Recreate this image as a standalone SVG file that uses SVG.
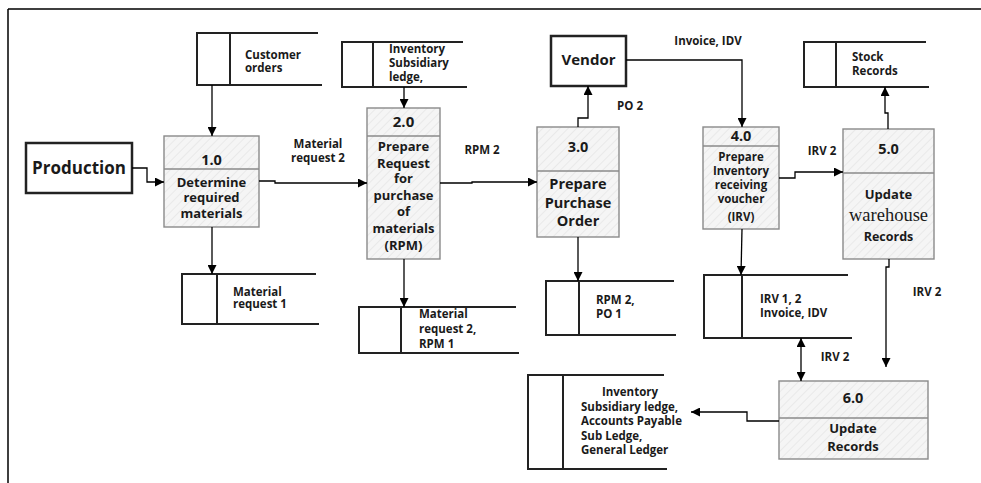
<svg xmlns="http://www.w3.org/2000/svg" width="981" height="483" viewBox="0 0 981 483">
<defs>
<pattern id="hatch" width="6" height="6" patternUnits="userSpaceOnUse" patternTransform="rotate(45)">
<rect width="6" height="6" fill="#f5f5f5"/>
<line x1="0" y1="0" x2="0" y2="6" stroke="#e6e6e6" stroke-width="1.5"/>
</pattern>
<marker id="arr" viewBox="0 0 10 10" refX="10" refY="5" markerWidth="9" markerHeight="9" markerUnits="userSpaceOnUse" orient="auto-start-reverse">
<path d="M0,0 L10,5 L0,10 z" fill="#000"/>
</marker>
</defs>
<style>
.t{font-family:"Open Sans","Noto Sans","Liberation Sans",sans-serif;font-weight:bold;fill:#1a1a1a}
.s{font-size:11.5px}
.c{text-anchor:middle}
.proc{fill:url(#hatch);stroke:#8a8a8a;stroke-width:1.4}
.div{stroke:#8a8a8a;stroke-width:1.4;fill:none}
.store{fill:none;stroke:#222;stroke-width:2}
.ext{fill:#fff;stroke:#222;stroke-width:2.5}
.con{fill:none;stroke:#000;stroke-width:1.3;marker-end:url(#arr)}
</style>
<rect width="981" height="483" fill="#fff"/>
<path d="M8,9 H981 M8,9 V483" fill="none" stroke="#000" stroke-width="1.5"/>

<g id="production">
<rect class="ext" x="26" y="143" width="106" height="50"/>
<text class="t c" x="79" y="174" font-size="17">Production</text>
</g>

<g id="vendor">
<rect class="ext" x="551" y="36" width="75" height="50"/>
<text class="t c" x="588.5" y="65" font-size="15">Vendor</text>
</g>

<g id="store-customer-orders">
<path class="store" d="M318,33 H197 V85 H322 M230,33 V85"/>
<text class="t s" x="245" y="59">Customer</text>
<text class="t s" x="245" y="72">orders</text>
</g>

<g id="store-inventory-subsidiary">
<path class="store" d="M463,42 H342 V87 H467 M373,42 V87"/>
<text class="t s" x="389" y="53">Inventory</text>
<text class="t s" x="389" y="67">Subsidiary</text>
<text class="t s" x="389" y="81">ledge,</text>
</g>

<g id="store-stock-records">
<path class="store" d="M926,42 H804 V87 H929 M836,42 V87"/>
<text class="t s" x="852" y="61">Stock</text>
<text class="t s" x="852" y="75">Records</text>
</g>

<g id="store-material-request-1">
<path class="store" d="M316,274 H182 V324 H319 M217,274 V324"/>
<text class="t s" x="233" y="296">Material</text>
<text class="t s" x="233" y="308">request 1</text>
</g>

<g id="store-material-request-2">
<path class="store" d="M516,307 H359 V353 H519 M401,307 V353"/>
<text class="t s" x="419" y="318">Material</text>
<text class="t s" x="419" y="333">request 2,</text>
<text class="t s" x="419" y="348">RPM 1</text>
</g>

<g id="store-rpm2-po1">
<path class="store" d="M674,281 H546 V335 H676 M579,281 V335"/>
<text class="t s" x="596" y="304">RPM 2,</text>
<text class="t s" x="596" y="318">PO 1</text>
</g>

<g id="store-irv">
<path class="store" d="M848,275 H704 V338 H852 M742,275 V338"/>
<text class="t s" x="760" y="303">IRV 1, 2</text>
<text class="t s" x="760" y="317">Invoice, IDV</text>
</g>

<g id="store-ledgers">
<path class="store" d="M664,375 H528 V469 H667 M563,375 V469"/>
<text class="t s c" x="630" y="396">Inventory</text>
<text class="t s" x="581" y="411">Subsidiary ledge,</text>
<text class="t s" x="581" y="425">Accounts Payable</text>
<text class="t s" x="581" y="440">Sub Ledge,</text>
<text class="t s" x="581" y="454">General Ledger</text>
</g>

<g id="p1">
<rect class="proc" x="164" y="136" width="95" height="91"/>
<line class="div" x1="164" y1="169" x2="259" y2="169"/>
<text class="t c" x="211.5" y="165" font-size="14.5">1.0</text>
<g class="t c" font-size="13">
<text x="211.5" y="187">Determine</text>
<text x="211.5" y="202">required</text>
<text x="211.5" y="218">materials</text>
</g>
</g>

<g id="p2">
<rect class="proc" x="367" y="108" width="73" height="151"/>
<line class="div" x1="367" y1="136" x2="440" y2="136"/>
<text class="t c" x="403.5" y="127" font-size="15">2.0</text>
<g class="t c" font-size="13">
<text x="403.5" y="151">Prepare</text>
<text x="403.5" y="168">Request</text>
<text x="403.5" y="183">for</text>
<text x="403.5" y="200">purchase</text>
<text x="403.5" y="216">of</text>
<text x="403.5" y="233">materials</text>
<text x="403.5" y="250">(RPM)</text>
</g>
</g>

<g id="p3">
<rect class="proc" x="537" y="127" width="82" height="110"/>
<line class="div" x1="537" y1="171" x2="619" y2="171"/>
<text class="t c" x="578" y="152" font-size="14.5">3.0</text>
<g class="t c" font-size="14.5">
<text x="578" y="189">Prepare</text>
<text x="578" y="208">Purchase</text>
<text x="578" y="226">Order</text>
</g>
</g>

<g id="p4">
<rect class="proc" x="703" y="127" width="76" height="102"/>
<line class="div" x1="703" y1="146" x2="779" y2="146"/>
<text class="t c" x="741" y="141" font-size="14.5">4.0</text>
<g class="t c" font-size="11.5">
<text x="741" y="161">Prepare</text>
<text x="741" y="175">Inventory</text>
<text x="741" y="189">receiving</text>
<text x="741" y="203">voucher</text>
<text x="741" y="221">(IRV)</text>
</g>
</g>

<g id="p5">
<rect class="proc" x="843" y="129" width="91" height="130"/>
<line class="div" x1="843" y1="173" x2="934" y2="173"/>
<text class="t c" x="888.5" y="154" font-size="14.5">5.0</text>
<text class="t c" x="888.5" y="199" font-size="13">Update</text>
<text x="888.5" y="221" font-size="18.5" text-anchor="middle" font-family="'Liberation Serif','Times New Roman',serif" fill="#1a1a1a">warehouse</text>
<text class="t c" x="888.5" y="241" font-size="12.5">Records</text>
</g>

<g id="p6">
<rect class="proc" x="779" y="381" width="149" height="78"/>
<line class="div" x1="779" y1="418" x2="928" y2="418"/>
<text class="t c" x="853" y="403" font-size="14.5">6.0</text>
<text class="t c" x="853" y="433" font-size="13">Update</text>
<text class="t c" x="853" y="451" font-size="13">Records</text>
</g>

<g id="connectors">
<path class="con" d="M132,168 H147 V182 H164"/>
<path class="con" d="M212,85 V136"/>
<path class="con" d="M212,227 V274"/>
<path class="con" d="M259,181 H275 V183 H367"/>
<path class="con" d="M404,87 V108"/>
<path class="con" d="M404,259 V307"/>
<path class="con" d="M440,183 H472 V182 H537"/>
<path class="con" d="M578,127 V118 H588 V86"/>
<path class="con" d="M578,237 V281"/>
<path class="con" d="M626,60 H742 V127"/>
<path class="con" d="M742,229 L741,275"/>
<path class="con" d="M779,178 H795 V172 H843"/>
<path class="con" d="M888,129 V113 H885 V87"/>
<path class="con" d="M889,259 V267 H886 V367"/>
<path class="con" d="M801,338 V381" marker-start="url(#arr)"/>
<path class="con" d="M779,421 H747 V412 H691"/>
<g class="t s">
<text class="c" x="318" y="148">Material</text>
<text class="c" x="318" y="162">request 2</text>
<text class="c" x="482" y="154">RPM 2</text>
<text class="c" x="630" y="110">PO 2</text>
<text class="c" x="708" y="45">Invoice, IDV</text>
<text class="c" x="822" y="155">IRV 2</text>
<text class="c" x="927" y="296">IRV 2</text>
<text class="c" x="835" y="361">IRV 2</text>
</g>
</g>
</svg>
